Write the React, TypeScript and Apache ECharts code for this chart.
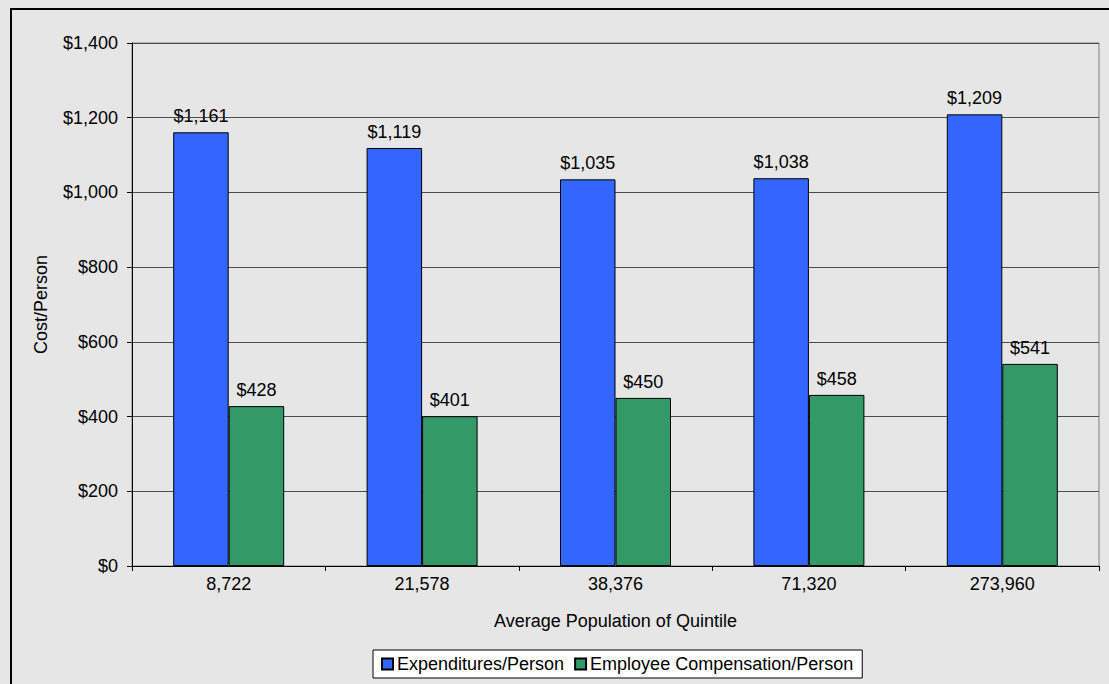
import React, { useEffect, useRef } from "react";
import * as echarts from "echarts";

const categories = ["8,722", "21,578", "38,376", "71,320", "273,960"];
const expenditures = [1161, 1119, 1035, 1038, 1209];
const compensation = [428, 401, 450, 458, 541];
const seriesNames = ["Expenditures/Person", "Employee Compensation/Person"];

const fmt = (v: number) => "$" + v.toLocaleString("en-US");
const FONT = "'Liberation Sans', Arial, sans-serif";
const FS = 18;

export default function App() {
  const ref = useRef<HTMLDivElement>(null);
  useEffect(() => {
    const chart = echarts.init(ref.current!, null, { renderer: "svg" });
    chart.setOption({
      animation: false,
      backgroundColor: "#e6e6e6",
      textStyle: { fontFamily: FONT, color: "#000" },
      grid: {
        left: 132,
        right: 10,
        top: 43,
        bottom: 118,
        show: true,
        borderColor: "#808080",
        borderWidth: 1,
        backgroundColor: "transparent",
      },
      legend: {
        left: 373,
        top: 650,
        padding: [5, 9, 5, 8],
        backgroundColor: "#fff",
        borderColor: "#000",
        borderWidth: 1,
        itemWidth: 11,
        itemHeight: 11,
        itemGap: 10,
        icon: "rect",
        textStyle: { fontSize: FS, fontFamily: FONT, color: "#000", padding: [0, 0, 0, -1] },
        data: seriesNames,
      },
      xAxis: {
        type: "category",
        data: categories,
        name: "Average Population of Quintile",
        nameLocation: "middle",
        nameGap: 46,
        nameTextStyle: { fontSize: FS, fontFamily: FONT, color: "#000" },
        axisLine: { lineStyle: { color: "#000", width: 1 } },
        axisTick: { show: true, length: 5, inside: false, lineStyle: { color: "#000" } },
        axisLabel: { fontSize: FS, fontFamily: FONT, color: "#000", margin: 9 },
      },
      yAxis: {
        type: "value",
        min: 0,
        max: 1400,
        interval: 200,
        name: "Cost/Person",
        nameLocation: "middle",
        nameGap: 82,
        nameRotate: 90,
        nameTextStyle: { fontSize: FS, fontFamily: FONT, color: "#000" },
        axisLine: { show: true, lineStyle: { color: "#000", width: 1 } },
        axisTick: { show: true, length: 5, lineStyle: { color: "#000" } },
        axisLabel: { fontSize: FS, fontFamily: FONT, color: "#000", margin: 14, formatter: (v: number) => fmt(v) },
        splitLine: { show: true, lineStyle: { color: "#4d4d4d", width: 1 } },
      },
      series: [
        {
          name: seriesNames[0],
          type: "bar",
          data: expenditures,
          barWidth: 55.5,
          barGap: "0%",
          itemStyle: { color: "#3366ff", borderColor: "#000", borderWidth: 1 },
          label: { show: true, position: "top", distance: 7, fontSize: FS, fontFamily: FONT, color: "#000", formatter: (p: any) => fmt(p.value) },
        },
        {
          name: seriesNames[1],
          type: "bar",
          data: compensation,
          barWidth: 55.5,
          barGap: "0%",
          itemStyle: { color: "#339966", borderColor: "#000", borderWidth: 1 },
          label: { show: true, position: "top", distance: 7, fontSize: FS, fontFamily: FONT, color: "#000", formatter: (p: any) => fmt(p.value) },
        },
      ],
      graphic: [
        {
          type: "polyline",
          silent: true,
          shape: { points: [[11, 700], [11, 9], [1120, 9]] },
          style: { stroke: "#000", lineWidth: 2, fill: null },
        },
      ],
    });
    return () => chart.dispose();
  }, []);
  return (
    <div
      ref={ref}
      style={{ position: "fixed", left: 0, top: 0, width: 1109, height: 684, background: "#e6e6e6" }}
    />
  );
}
